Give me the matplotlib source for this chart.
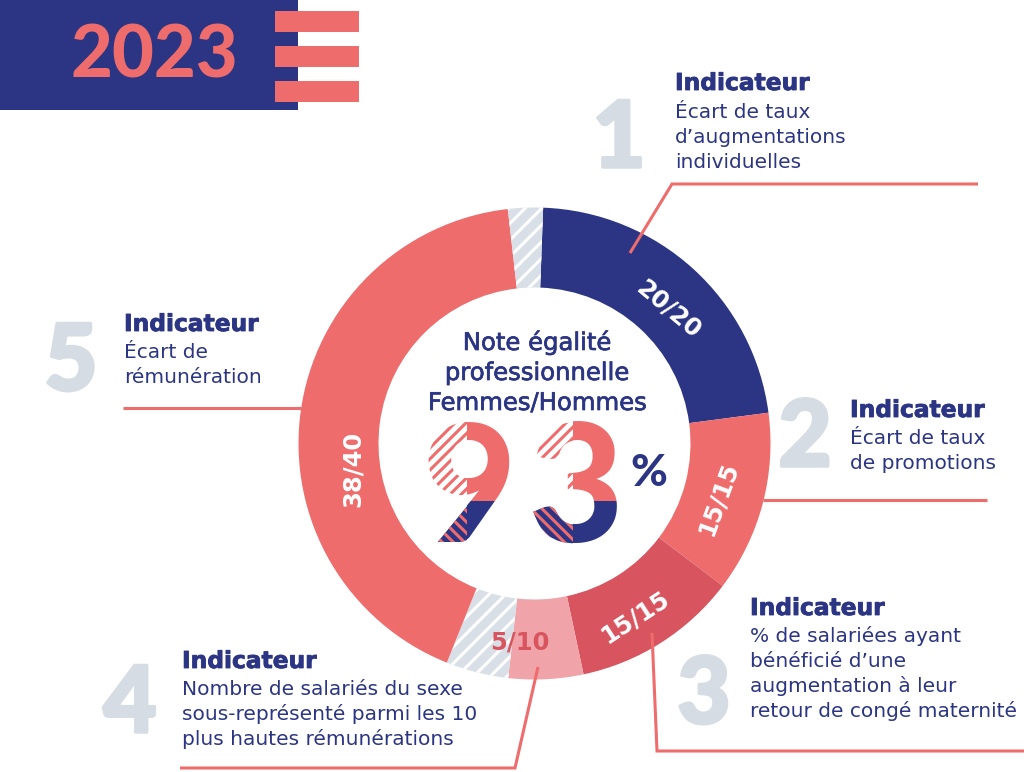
import matplotlib
matplotlib.use("Agg")
import matplotlib.pyplot as plt
from matplotlib.patches import Rectangle
from matplotlib import patheffects as pe
import numpy as np

# ---------------- data ----------------
year = "2023"
segment_labels = ["20/20", "15/15", "15/15", "5/10", "", "38/40", ""]
segment_arc_deg = [80.4, 44.6, 40.9, 18.4, 15.4, 151.7, 8.6]   # arc length of each ring piece
segment_kind = ["navy", "coral", "coral_dark", "pink", "lost", "coral", "lost"]
score_digits = ["9", "3"]
score_unit = "%"
center_title = ["Note égalité", "professionnelle", "Femmes/Hommes"]
indicator_numbers = ["1", "2", "3", "4", "5"]
indicator_title = "Indicateur"
indicator_texts = [
    ["Écart de taux", "d’augmentations", "individuelles"],
    ["Écart de taux", "de promotions"],
    ["% de salariées ayant", "bénéficié d’une", "augmentation à leur", "retour de congé maternité"],
    ["Nombre de salariés du sexe", "sous-représenté parmi les 10", "plus hautes rémunérations"],
    ["Écart de", "rémunération"],
]

# ---------------- style ----------------
NAVY = "#2b3583"
CORAL = "#ef6c6d"
CORAL_DARK = "#d8545f"
PINK = "#f0a3a8"
LOST = "#d8dfe6"
GREY_NUM = "#d5dce3"
palette = {"navy": NAVY, "coral": CORAL, "coral_dark": CORAL_DARK, "pink": PINK, "lost": LOST}
label_color = {"navy": "white", "coral": "white", "coral_dark": "white", "pink": CORAL_DARK}
label_nudge_deg = [2.5, 2.0, 2.5, 7.0, 0, -15.6, 0]
label_radius = [0.805, 0.815, 0.85, 0.845, 0, 0.775, 0]
label_rotation = [-40, 70, 33, 0, 0, 90, 0]

plt.rcParams["hatch.linewidth"] = 2.2
W, H = 1024, 772
cx, cy, R = 534.5, 443.5, 236.0
ring_width = 80.0 / 236.0
start_deg = 2.1  # clockwise from 12 o'clock

fig = plt.figure(figsize=(W / 100, H / 100), dpi=100)
fig.patch.set_facecolor("white")

# ---- donut ----
pax = fig.add_axes([(cx - R) / W, (H - cy - R) / H, 2 * R / W, 2 * R / H])
wedges, _ = pax.pie(segment_arc_deg, colors=[palette[k] for k in segment_kind],
                    startangle=90 - start_deg, counterclock=False, radius=1.0,
                    wedgeprops=dict(width=ring_width, linewidth=0))
for w, k in zip(wedges, segment_kind):
    if k == "lost":
        w.set_facecolor(LOST)
        w.set_edgecolor("white")
        w.set_linewidth(0)
        w.set_hatch("//")
pax.set_xlim(-1, 1)
pax.set_ylim(-1, 1)
pax.set_aspect("equal")
pax.axis("off")

cum = np.cumsum([0] + segment_arc_deg[:-1])
for i, lab in enumerate(segment_labels):
    if not lab:
        continue
    theta = start_deg + cum[i] + segment_arc_deg[i] / 2 + label_nudge_deg[i]
    phi = np.deg2rad(90 - theta)
    r = label_radius[i]
    pax.text(r * np.cos(phi), r * np.sin(phi), lab, ha="center", va="center",
             rotation=label_rotation[i], rotation_mode="anchor",
             color=label_color[segment_kind[i]], fontsize=17.5, fontweight="bold",
             family="DejaVu Sans")

# ---- overlay in pixel coordinates ----
ax = fig.add_axes([0, 0, 1, 1])
ax.set_xlim(0, W)
ax.set_ylim(H, 0)
ax.axis("off")

# header
ax.add_patch(Rectangle((0, 0), 298, 110, color=NAVY, lw=0, zorder=1))
for y0 in (11, 46, 81):
    ax.add_patch(Rectangle((275, y0), 84, 21, color=CORAL, lw=0, zorder=2))
ax.text(154.5, 77, year, ha="center", va="baseline", color=CORAL, fontsize=52,
        family="Lato", fontweight="black", zorder=3)

# center title
thick = [pe.withStroke(linewidth=0.5, foreground=NAVY)]
for txt, yb in zip(center_title, [350, 380, 410]):
    ax.text(537, yb, txt, ha="center", va="baseline", color=NAVY, fontsize=17.5,
            family="DejaVu Sans", fontweight="normal", path_effects=thick)

# big score digits, split in four styled quarters
digit_center_x = [470, 576]
digit_split_x = [467, 573]
base_y, split_y = 542, 501
for ch, xc, sx in zip(score_digits, digit_center_x, digit_split_x):
    quads = [
        ((sx - 80, 380, sx, split_y), "white", CORAL, "///"),
        ((sx, 380, sx + 80, split_y), CORAL, None, None),
        ((sx - 80, split_y, sx, 600), NAVY, CORAL, "\\\\\\"),
        ((sx, split_y, sx + 80, 600), NAVY, None, None),
    ]
    for (x0, y0, x1, y1), face, hcol, hatch in quads:
        t = ax.text(xc, base_y, ch, ha="center", va="baseline", color=face,
                    fontsize=118, family="Lato", fontweight="black", zorder=5,
                    clip_on=True)
        if hatch:
            t.set_path_effects([pe.PathPatchEffect(facecolor=face, edgecolor=hcol,
                                                   hatch=hatch, linewidth=0)])
        t.set_clip_path(Rectangle((x0, y0), x1 - x0, y1 - y0, transform=ax.transData))
        t.set_clip_on(True)
ax.text(649, 486, score_unit, ha="center", va="baseline", color=NAVY, fontsize=32,
        family="Lato", fontweight="black")

# indicator blocks
num_pos = [(619, 167), (805, 466), (704, 723), (130, 732), (71, 390)]
block_x = [675, 850, 750, 182, 124]
block_title_y = [90, 417, 615, 668, 331]
block_first_y = [118, 444, 642, 695, 358]
line_step = 25
head_fx = [pe.withStroke(linewidth=0.6, foreground=NAVY)]
for i in range(5):
    nx, ny = num_pos[i]
    ax.text(nx, ny, indicator_numbers[i], ha="center", va="baseline", color=GREY_NUM,
            fontsize=66, family="Lato", fontweight="black", zorder=1,
            path_effects=[pe.withStroke(linewidth=2.5, foreground=GREY_NUM)])
    ax.text(block_x[i], block_title_y[i], indicator_title, ha="left", va="baseline",
            color=NAVY, fontsize=16.8, fontweight="bold", family="DejaVu Sans", zorder=3,
            path_effects=head_fx)
    for j, line in enumerate(indicator_texts[i]):
        ax.text(block_x[i], block_first_y[i] + j * line_step, line, ha="left",
                va="baseline", color=NAVY, fontsize=14.5, family="DejaVu Sans", zorder=3)

# leader lines
leaders = [
    ([630, 672, 978], [253, 184, 184]),
    ([763, 987], [500, 500]),
    ([652, 657, 1024], [633, 751, 751]),
    ([538, 515, 180], [667, 768, 768]),
    ([301, 123], [408, 408]),
]
for xs, ys in leaders:
    ax.plot(xs, ys, color=CORAL, lw=2.2, solid_capstyle="butt", solid_joinstyle="miter", zorder=4)

fig.savefig("out.png", dpi=100, facecolor="white")
